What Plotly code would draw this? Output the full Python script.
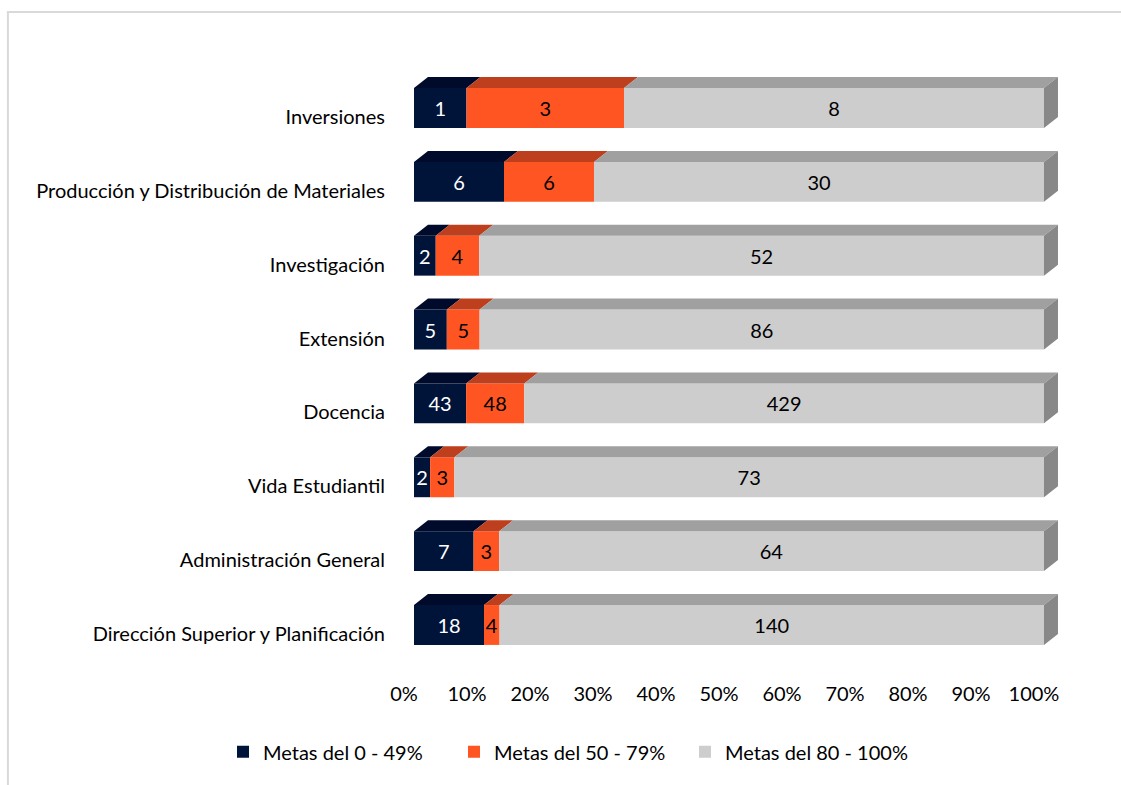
import plotly.graph_objects as go

# Données
categorias = ["Dirección Superior y Planificación", "Administración General", "Vida Estudiantil",
              "Docencia", "Extensión", "Investigación",
              "Producción y Distribución de Materiales", "Inversiones"]
metas_0_49 = [18, 7, 2, 43, 5, 2, 6, 1]
metas_50_79 = [4, 3, 3, 48, 5, 4, 6, 3]
metas_80_100 = [140, 64, 73, 429, 86, 52, 30, 8]

series = [
    ("Metas del 0 - 49%", metas_0_49, "#00143A", "#000B2B", "white"),
    ("Metas del 50 - 79%", metas_50_79, "#FF5522", "#BE3F1D", "black"),
    ("Metas del 80 - 100%", metas_80_100, "#CDCDCD", "#A0A0A0", "black"),
]

FONT = "Lato"
BAR_W = 0.54      # épaisseur des barres (unités de l'axe y)
DX, DY = 0.0222, 0.149  # profondeur de l'effet 3D

totals = [a + b + c for a, b, c in zip(metas_0_49, metas_50_79, metas_80_100)]
pos = list(range(len(categorias)))

fig = go.Figure()

# Faces avant
base = [0.0] * len(categorias)
tops = []
for name, vals, col, col_top, txt_col in series:
    shares = [v / t for v, t in zip(vals, totals)]
    fig.add_trace(go.Bar(
        name=name,
        y=pos, x=shares, base=base,
        orientation='h',
        width=BAR_W,
        text=[str(v) for v in vals],
        textposition='inside',
        insidetextanchor='middle',
        textangle=0,
        constraintext='none',
        textfont=dict(family=FONT, size=20, color=txt_col),
        marker=dict(color=col, line=dict(width=0)),
        hoverinfo='skip'
    ))
    tops.append((base[:], [b + s for b, s in zip(base, shares)], col_top))
    base = [b + s for b, s in zip(base, shares)]

# Faces du dessus
for x0s, x1s, col_top in tops:
    xs, ys = [], []
    for i, (x0, x1) in enumerate(zip(x0s, x1s)):
        yt = pos[i] + BAR_W / 2
        xs += [x0, x1, x1 + DX, x0 + DX, x0, None]
        ys += [yt, yt, yt + DY, yt + DY, yt, None]
    fig.add_trace(go.Scatter(x=xs, y=ys, mode='lines', fill='toself', fillcolor=col_top,
                             line=dict(width=0, color=col_top), showlegend=False,
                             hoverinfo='skip', cliponaxis=False))

# Face latérale droite
xs, ys = [], []
for i, x1 in enumerate(base):
    yb, yt = pos[i] - BAR_W / 2, pos[i] + BAR_W / 2
    xs += [x1, x1 + DX, x1 + DX, x1, x1, None]
    ys += [yb, yb + DY, yt + DY, yt, yb, None]
fig.add_trace(go.Scatter(x=xs, y=ys, mode='lines', fill='toself', fillcolor="#888888",
                         line=dict(width=0, color="#888888"), showlegend=False,
                         hoverinfo='skip', cliponaxis=False))

# Habillage
fig.update_layout(
    width=1121, height=785,
    barmode='overlay',
    plot_bgcolor='white', paper_bgcolor='white',
    font=dict(family=FONT, size=20, color='black'),
    margin=dict(t=67, b=105, l=414, r=52),
    xaxis=dict(range=[0, 1.0397], tickvals=[i / 10 for i in range(11)],
               ticktext=[f"{i * 10}%" for i in range(11)],
               showgrid=False, zeroline=False, showline=False,
               tickfont=dict(size=20), ticklabelshift=-10, fixedrange=True),
    yaxis=dict(range=[-0.745, 7.555], tickvals=pos, ticktext=categorias,
               showgrid=False, zeroline=False, showline=False,
               ticklabelstandoff=28, ticklabelshift=9, fixedrange=True),
    legend=dict(orientation='h', x=(223 - 414) / 655, xanchor='left', y=-0.117, yanchor='middle',
                font=dict(size=20), traceorder='normal', itemwidth=30, entrywidth=186),
    shapes=[dict(type='rect', xref='paper', yref='paper',
                 x0=-0.62, x1=1.09, y0=-0.18, y1=1.0897,
                 line=dict(color='#D9D9D9', width=2), layer='below')]
)

fig.write_html("out.html", config={'displayModeBar': False},
               post_script="document.body.style.margin='0px';")
